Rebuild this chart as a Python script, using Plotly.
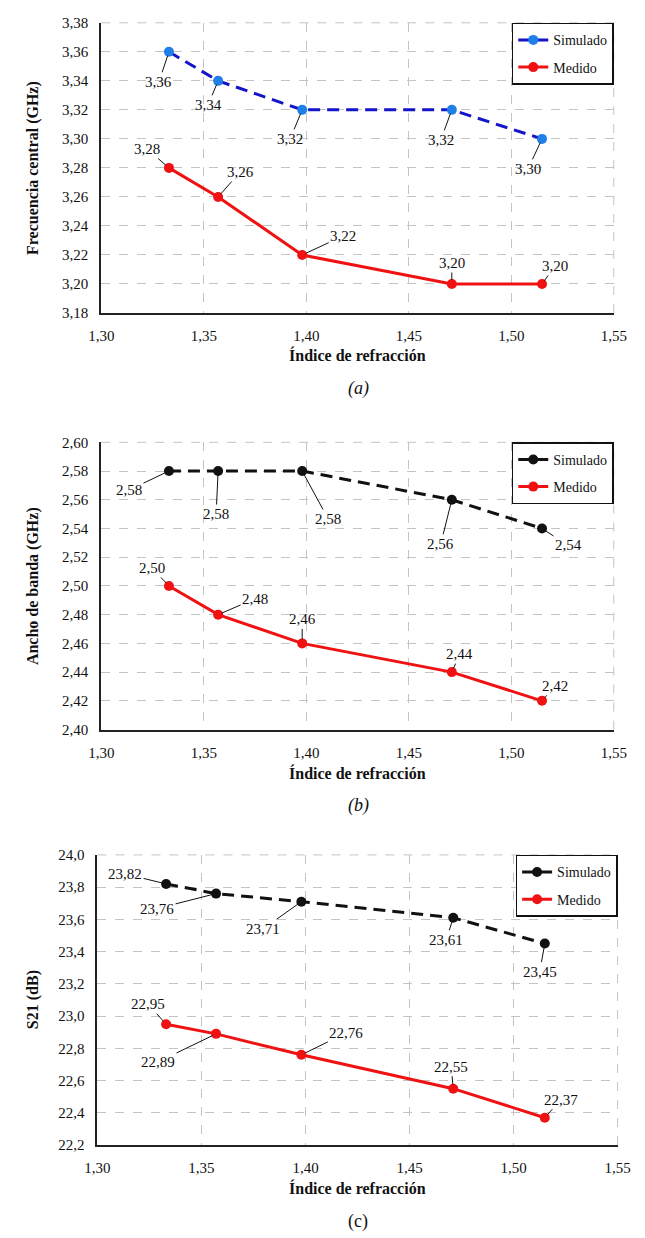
import plotly.graph_objects as go

# ---------------- data ----------------
indice = [1.333, 1.357, 1.398, 1.471, 1.515]
fc_sim = [3.36, 3.34, 3.32, 3.32, 3.30]
fc_med = [3.28, 3.26, 3.22, 3.20, 3.20]
bw_sim = [2.58, 2.58, 2.58, 2.56, 2.54]
bw_med = [2.50, 2.48, 2.46, 2.44, 2.42]
s21_sim = [23.82, 23.76, 23.71, 23.61, 23.45]
s21_med = [22.95, 22.89, 22.76, 22.55, 22.37]
x_ticks = [1.30, 1.35, 1.40, 1.45, 1.50, 1.55]

# ---------------- styling ----------------
W, H = 645, 1238
SERIF = "Liberation Serif"
RED = "#F01212"
BLUE_LINE = "#1414C8"
BLUE_MK = "#1F80EA"
BLACK = "#111111"
GRID = "#C4C4C4"

def py(p):
    return 1 - p / H

def px(p):
    return p / W

# panel geometry in pixels: (x0, x1, ytop, ybottom)
panels = [
    (92, 626, 15, 309),
    (92, 626, 440, 731),
    (88, 630, 858, 1152),
]

fig = go.Figure()

series = [
    (fc_sim, fc_med, BLUE_LINE, BLUE_MK, "x", "y", "legend"),
    (bw_sim, bw_med, BLACK, BLACK, "x2", "y2", "legend2"),
    (s21_sim, s21_med, BLACK, BLACK, "x3", "y3", "legend3"),
]

for k, (sim, med, lc, mc, xa, ya, lg) in enumerate(series):
    fig.add_trace(go.Scatter(
        x=indice, y=sim, mode="lines+markers", name="Simulado",
        line=dict(color=lc, width=3, dash="12px,7px"),
        marker=dict(color=mc, size=10),
        legendgroup=f"s{k}", xaxis=xa, yaxis=ya, legend=lg))
    fig.add_trace(go.Scatter(
        x=indice, y=med, mode="lines+markers", name="Medido",
        line=dict(color=RED, width=3),
        marker=dict(color=RED, size=10),
        legendgroup=f"m{k}", xaxis=xa, yaxis=ya, legend=lg))

yranges = [(3.18, 3.38, 0.02, ".2f"), (2.40, 2.60, 0.02, ".2f"), (22.2, 24.0, 0.2, ".1f")]
ytitles = ["Frecuencia central (GHz)", "Ancho de banda (GHz)", "S21 (dB)"]
captions = ["<i>(a)</i>", "<i>(b)</i>", "(c)"]
xtitle_y = [352, 775, 1195]
caption_y = [385, 808, 1229]

axis_common = dict(
    showgrid=True, gridcolor=GRID, griddash="dash", gridwidth=1,
    showline=True, linecolor="#222222", linewidth=2,
    zeroline=False, ticks="", ticklabelstandoff=8,
    tickfont=dict(family=SERIF, size=15, color="#111"),
)

layout = dict(
    width=W, height=H,
    margin=dict(l=0, r=0, t=0, b=0),
    paper_bgcolor="white", plot_bgcolor="white",
    separators=",.",
    showlegend=True,
    font=dict(family=SERIF, color="#111"),
)

shapes = []
annotations = []
for i, (x0, x1, yt, yb) in enumerate(panels):
    sfx = "" if i == 0 else str(i + 1)
    lo, hi, dt, fmt = yranges[i]
    layout["xaxis" + sfx] = dict(
        axis_common, domain=[px(x0), px(x1)], range=[1.30, 1.55],
        tickvals=x_ticks, tickformat=".2f", anchor="y" + sfx)
    layout["yaxis" + sfx] = dict(
        axis_common, domain=[py(yb), py(yt)], range=[lo, hi],
        tick0=lo, dtick=dt, tickformat=fmt, anchor="x" + sfx)
    # dashed top / right border like the grid
    shapes.append(dict(type="line", xref="paper", yref="paper",
                       x0=px(x0), x1=px(x1), y0=py(yt), y1=py(yt),
                       line=dict(color=GRID, width=1, dash="dash")))
    shapes.append(dict(type="line", xref="paper", yref="paper",
                       x0=px(x1), x1=px(x1), y0=py(yb), y1=py(yt),
                       line=dict(color=GRID, width=1, dash="dash")))
    # axis titles
    annotations.append(dict(
        text="<b>" + ytitles[i] + "</b>", textangle=-90, showarrow=False,
        xref="paper", yref="paper", x=px(21), y=py((yt + yb) / 2),
        xanchor="center", yanchor="middle",
        font=dict(family=SERIF, size=16, color="#111")))
    annotations.append(dict(
        text="<b>Índice de refracción</b>", showarrow=False,
        xref="paper", yref="paper", x=px(359), y=py(xtitle_y[i]),
        xanchor="center", yanchor="middle",
        font=dict(family=SERIF, size=16, color="#111")))
    annotations.append(dict(
        text=captions[i], showarrow=False,
        xref="paper", yref="paper", x=px(360), y=py(caption_y[i]),
        xanchor="center", yanchor="middle",
        font=dict(family=SERIF, size=18, color="#111")))
    lgname = "legend" + sfx
    layout[lgname] = dict(
        x=px(x1), y=py(yt), xanchor="right", yanchor="top",
        bgcolor="white", bordercolor="#111", borderwidth=1.5,
        font=dict(family=SERIF, size=14, color="#111"),
        itemwidth=30, tracegroupgap=6, entrywidth=100)

# data label offsets (pixels, text centre relative to point)
label_offsets = [
    ([(-10, 30), (-10, 24), (-12, 29), (-11, 30), (-14, 30)],
     [(-22, -19), (22, -25), (41, -19), (0, -21), (13, -18)]),
    ([(-40, 19), (-2, 43), (26, 48), (-11, 44), (26, 17)],
     [(-17, -18), (37, -16), (0, -24), (8, -18), (13, -15)]),
    ([(-41, -10), (-59, 15), (-38, 27), (-7, 22), (-5, 28)],
     [(-18, -20), (-58, 28), (45, -22), (-2, -22), (16, -18)]),
]
for i, (sim, med, lc, mc, xa, ya, lg) in enumerate(series):
    for vals, offs in ((sim, label_offsets[i][0]), (med, label_offsets[i][1])):
        for xv, yv, (ox, oy) in zip(indice, vals, offs):
            txt = format(yv, ".2f").replace(".", ",")
            annotations.append(dict(
                x=xv, y=yv, xref=xa, yref=ya, text=txt,
                showarrow=True, arrowhead=0, arrowwidth=1,
                arrowcolor="#111", ax=ox, ay=oy, standoff=4,
                font=dict(family=SERIF, size=15, color="#111")))

layout["shapes"] = shapes
layout["annotations"] = annotations
fig.update_layout(**layout)
fig.write_html(
    "out.html",
    config={"displayModeBar": False},
    post_script="document.body.style.margin='0';document.body.style.overflow='hidden';")
